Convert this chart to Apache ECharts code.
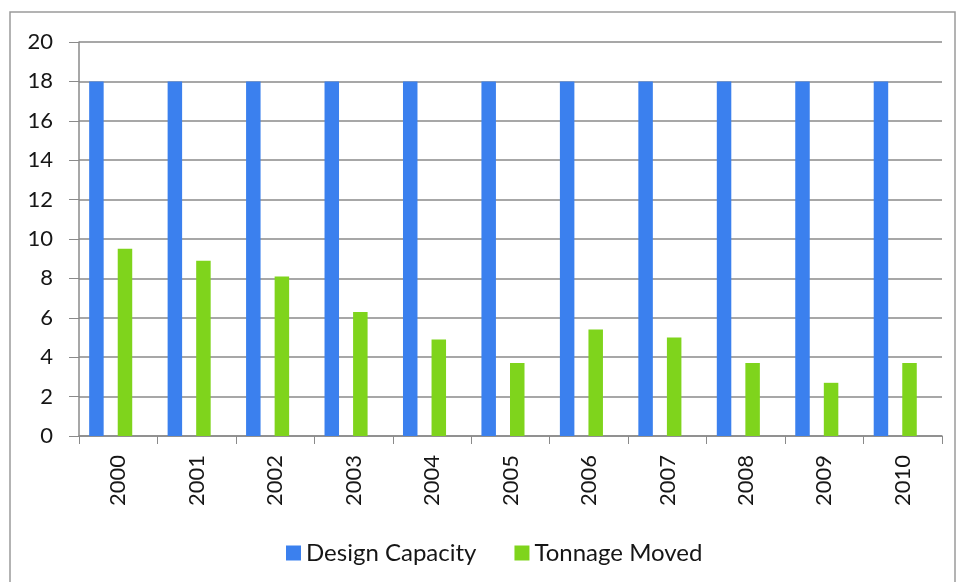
<!DOCTYPE html>
<html>
<head>
<meta charset="utf-8">
<script src="https://cdn.jsdelivr.net/npm/echarts@6/dist/echarts.min.js"></script>
<style>
html,body{margin:0;padding:0;background:#fff;}
#chart{width:960px;height:582px;}
</style>
</head>
<body>
<div id="chart"></div>
<script>
const years = ['2000','2001','2002','2003','2004','2005','2006','2007','2008','2009','2010'];
const designCapacity = [18,18,18,18,18,18,18,18,18,18,18];
const tonnageMoved = [9.5,8.9,8.1,6.3,4.9,3.7,5.4,5.0,3.7,2.7,3.7];
const spacer = [0,0,0,0,0,0,0,0,0,0,0];
const yTicks = {min:0, max:20, interval:2};

const FONT = 'Lato';
const chart = echarts.init(document.getElementById('chart'), null, {renderer:'canvas'});
chart.setOption({
  animation:false,
  backgroundColor:'#ffffff',
  graphic:[{
    type:'rect',
    shape:{x:10,y:12,width:945,height:600},
    style:{fill:'none',stroke:'#9a9a9a',lineWidth:1.5},
    silent:true
  }],
  grid:{left:79,right:18,top:42,bottom:146,containLabel:false},
  legend:{
    data:['Design Capacity','Tonnage Moved'],
    top:536,
    left:281,
    itemWidth:15,itemHeight:15,itemGap:38,
    icon:'rect',
    textStyle:{fontFamily:FONT,fontSize:24,color:'#161616'}
  },
  xAxis:{
    type:'category',
    data:years,
    axisLine:{lineStyle:{color:'#8a8a8a',width:1.5}},
    axisTick:{show:true,alignWithLabel:false,length:8,lineStyle:{color:'#8a8a8a'}},
    axisLabel:{rotate:90,margin:19,fontFamily:FONT,fontSize:22,color:'#161616',interval:0}
  },
  yAxis:{
    type:'value',
    min:yTicks.min,max:yTicks.max,interval:yTicks.interval,
    axisLine:{show:true,lineStyle:{color:'#8a8a8a',width:1.5}},
    axisTick:{show:true,length:10,lineStyle:{color:'#8a8a8a'}},
    splitLine:{lineStyle:{color:'#8a8a8a',width:1.5}},
    axisLabel:{margin:26,fontFamily:FONT,fontSize:22,color:'#161616'}
  },
  series:[
    {name:'Design Capacity',type:'bar',data:designCapacity,barWidth:14.5,barGap:'97%',itemStyle:{color:'#3b80ee'}},
    {name:'Tonnage Moved',type:'bar',data:tonnageMoved,barWidth:14.5,barGap:'97%',itemStyle:{color:'#7fd41c'}},
    {name:'spacer',type:'bar',data:spacer,barWidth:0.01,barGap:'97%',silent:true,itemStyle:{opacity:0}}
  ]
});
</script>
</body>
</html>
